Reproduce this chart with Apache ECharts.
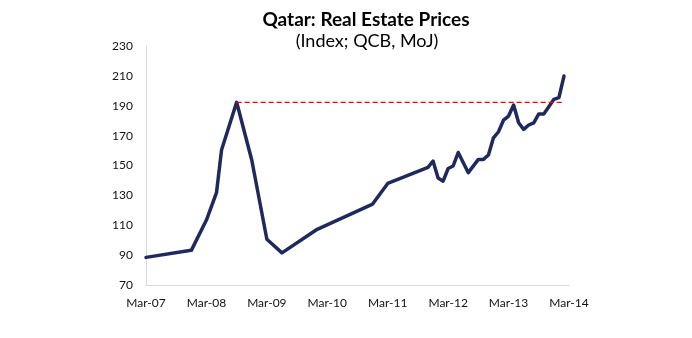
<!DOCTYPE html>
<html>
<head>
<meta charset="utf-8">
<script src="https://cdn.jsdelivr.net/npm/echarts@6/dist/echarts.min.js"></script>
<style>
html,body{margin:0;padding:0;background:#fff;}
#c{width:692px;height:338px;}
</style>
</head>
<body>
<div id="c"></div>
<script>
// Months elapsed since Mar-2007
const months = [0, 9, 12, 14, 15, 18, 21, 24, 27, 34, 45, 48, 56, 57, 58, 59, 60, 61, 62, 64, 66, 67, 68, 69, 70, 71, 72, 73, 74, 75, 76, 77, 78, 79, 81, 82, 83];
const prices = [88.5, 93.2, 113.5, 131.8, 160.4, 192.3, 153.7, 100.6, 91.5, 107.3, 124.2, 138.0, 148.8, 153.0, 141.6, 139.5, 148.0, 149.7, 158.7, 145.2, 154.1, 154.1, 157.0, 168.5, 172.6, 180.4, 183.1, 190.5, 178.6, 174.2, 177.1, 178.6, 184.5, 184.5, 194.3, 195.4, 209.9];
const xTickLabels = ["Mar-07", "Mar-08", "Mar-09", "Mar-10", "Mar-11", "Mar-12", "Mar-13", "Mar-14"];
const refMonths = [18, 83];
const refValues = [192.3, 192.3];

const chart = echarts.init(document.getElementById('c'), null, {renderer: 'canvas'});
const FONT = 'Lato, "Open Sans", sans-serif';
chart.setOption({
  animation: false,
  title: [{
    text: 'Qatar: Real Estate Prices',
    left: 361, top: 5, textAlign: 'center',
    textStyle: {fontFamily: FONT, fontWeight: 'bold', fontSize: 19, color: '#000'}
  }, {
    text: '(Index; QCB, MoJ)',
    left: 362, top: 27, textAlign: 'center',
    textStyle: {fontFamily: FONT, fontWeight: 'normal', fontSize: 18, color: '#000'}
  }],
  grid: {left: 146, right: 123, top: 46, bottom: 53, containLabel: false},
  xAxis: {
    type: 'value', min: 0, max: 84, interval: 12,
    axisLine: {show: true, lineStyle: {color: '#d9d9d9', width: 1}},
    axisTick: {show: false},
    splitLine: {show: false},
    axisLabel: {
      margin: 12, fontFamily: FONT, fontSize: 12, color: '#111',
      formatter: v => xTickLabels[Math.round(v / 12)] || ''
    }
  },
  yAxis: {
    type: 'value', min: 70, max: 230, interval: 20,
    axisLine: {show: true, lineStyle: {color: '#d9d9d9', width: 1}},
    axisTick: {show: false},
    splitLine: {show: false},
    axisLabel: {margin: 13, fontFamily: FONT, fontSize: 12, color: '#111'}
  },
  series: [{
    type: 'line',
    data: months.map((m, i) => [m, prices[i]]),
    showSymbol: false,
    lineStyle: {color: '#1f2a5c', width: 3.5, join: 'round', cap: 'round'},
    z: 2
  }, {
    type: 'line',
    data: refMonths.map((m, i) => [m, refValues[i]]),
    showSymbol: false,
    lineStyle: {color: '#ff0000', width: 1.3, type: [5, 3]},
    z: 3
  }]
});
</script>
</body>
</html>
